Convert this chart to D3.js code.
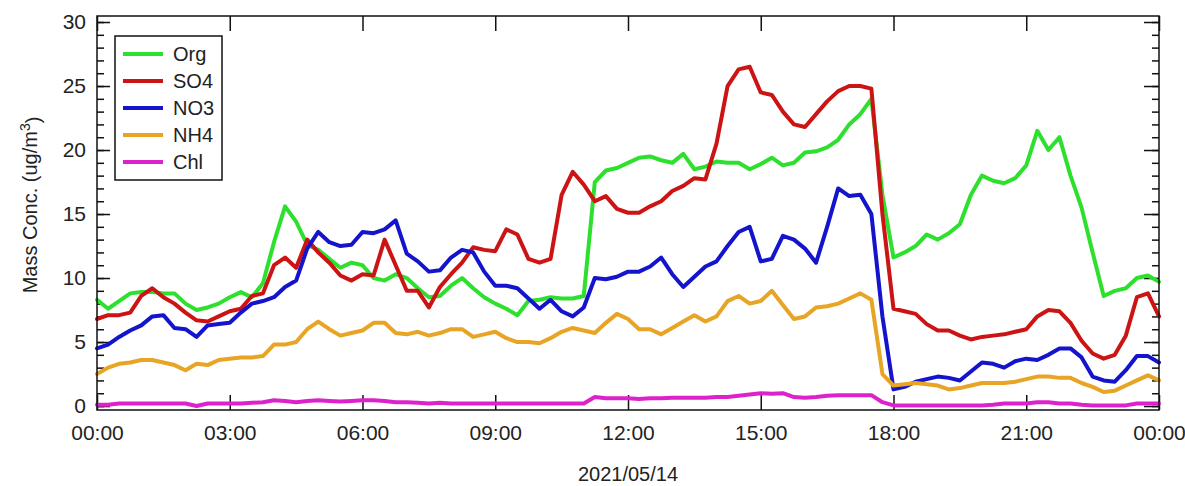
<!DOCTYPE html>
<html>
<head>
<meta charset="utf-8">
<script src="https://cdn.jsdelivr.net/npm/d3@7"></script>
<style>
  html,body{margin:0;padding:0;background:#fff;}
  svg text{font-family:"Liberation Sans",Arial,sans-serif;fill:#222;}
</style>
</head>
<body>
<script>
// 15-minute grid, 2021/05/14 00:00 -> 2021/05/15 00:00
const seriesNames = ["Org","SO4","NO3","NH4","Chl"];
const seriesColors = ["#2ee02e","#cc1414","#1414cc","#e8a424","#dd22cc"];
const xTickHours = [0,3,6,9,12,15,18,21,24];
const xTickLabels = ["00:00","03:00","06:00","09:00","12:00","15:00","18:00","21:00","00:00"];
const yTickValues = [0,5,10,15,20,25,30];
const dateLabel = "2021/05/14";

const org = [8.3,7.6,8.2,8.8, 8.9,8.9,8.8,8.8, 8.0,7.5,7.7,8.0, 8.5,8.9,8.5,9.6,
  12.8,15.6,14.4,12.6, 12.2,11.5,10.8,11.2, 11.0,10.0,9.8,10.3, 10.0,9.2,8.5,8.6,
  9.4,10.0,9.2,8.5, 8.0,7.6,7.1,8.2, 8.3,8.5,8.4,8.4, 8.6,17.5,18.4,18.6,
  19.0,19.4,19.5,19.2, 19.0,19.7,18.5,18.7, 19.1,19.0,19.0,18.5, 18.9,19.4,18.8,19.0,
  19.8,19.9,20.2,20.8, 22.0,22.8,24.0,16.5, 11.6,12.0,12.5,13.4, 13.0,13.5,14.2,16.5,
  18.0,17.6,17.4,17.8, 18.8,21.5,20.0,21.0, 18.0,15.5,12.0,8.6, 9.0,9.2,10.0,10.2, 9.7];
const so4 = [6.8,7.1,7.1,7.3, 8.6,9.2,8.5,8.0, 7.3,6.7,6.6,7.0, 7.4,7.6,8.6,8.8,
  11.0,11.6,10.8,13.0, 12.0,11.2,10.2,9.8, 10.3,10.2,13.0,11.0, 9.0,9.0,7.7,9.3,
  10.3,11.2,12.4,12.2, 12.1,13.8,13.4,11.5, 11.2,11.5,16.5,18.3, 17.3,16.0,16.4,15.4,
  15.1,15.1,15.6,16.0, 16.8,17.2,17.8,17.7, 20.5,25.0,26.3,26.5, 24.5,24.3,23.0,22.0,
  21.8,22.8,23.8,24.6, 25.0,25.0,24.8,15.0, 7.6,7.4,7.2,6.4, 5.9,5.9,5.5,5.2,
  5.4,5.5,5.6,5.8, 6.0,7.0,7.5,7.4, 6.5,5.1,4.1,3.7, 4.0,5.5,8.5,8.8, 7.0];
const no3 = [4.5,4.8,5.4,5.9, 6.3,7.0,7.1,6.1, 6.0,5.4,6.3,6.4, 6.5,7.3,8.0,8.2,
  8.5,9.3,9.8,12.3, 13.6,12.8,12.5,12.6, 13.6,13.5,13.8,14.5, 11.9,11.3,10.5,10.6,
  11.6,12.2,12.0,10.5, 9.4,9.4,9.2,8.4, 7.6,8.3,7.4,7.0, 7.7,10.0,9.9,10.1,
  10.5,10.5,10.9,11.6, 10.3,9.3,10.1,10.9, 11.3,12.5,13.6,14.0, 11.3,11.5,13.3,13.0,
  12.3,11.2,14.0,17.0, 16.4,16.5,15.0,7.0, 1.3,1.5,1.9,2.1, 2.3,2.2,2.0,2.7,
  3.4,3.3,3.0,3.5, 3.7,3.6,4.0,4.5, 4.5,3.8,2.3,2.0, 1.9,2.8,3.9,3.9, 3.4];
const nh4 = [2.5,3.0,3.3,3.4, 3.6,3.6,3.4,3.2, 2.8,3.3,3.2,3.6, 3.7,3.8,3.8,3.9,
  4.8,4.8,5.0,6.0, 6.6,6.0,5.5,5.7, 5.9,6.5,6.5,5.7, 5.6,5.8,5.5,5.7,
  6.0,6.0,5.4,5.6, 5.8,5.3,5.0,5.0, 4.9,5.3,5.8,6.1, 5.9,5.7,6.5,7.2,
  6.8,6.0,6.0,5.6, 6.1,6.6,7.1,6.6, 7.0,8.2,8.6,8.0, 8.2,9.0,7.9,6.8,
  7.0,7.7,7.8,8.0, 8.4,8.8,8.3,2.5, 1.6,1.7,1.8,1.7, 1.6,1.3,1.4,1.6,
  1.8,1.8,1.8,1.9, 2.1,2.3,2.3,2.2, 2.2,1.8,1.5,1.1, 1.2,1.6,2.0,2.4, 2.0];
const chl = [0.1,0.1,0.2,0.2, 0.2,0.2,0.2,0.2, 0.2,0.0,0.2,0.2, 0.2,0.2,0.25,0.3,
  0.45,0.4,0.3,0.4, 0.45,0.4,0.35,0.4, 0.45,0.45,0.4,0.3, 0.3,0.25,0.2,0.25,
  0.2,0.2,0.2,0.2, 0.2,0.2,0.2,0.2, 0.2,0.2,0.2,0.2, 0.2,0.7,0.6,0.6,
  0.6,0.55,0.6,0.6, 0.65,0.65,0.65,0.65, 0.7,0.7,0.8,0.9, 1.0,0.95,1.0,0.7,
  0.65,0.7,0.8,0.85, 0.85,0.85,0.85,0.3, 0.05,0.05,0.05,0.05, 0.05,0.05,0.05,0.05,
  0.05,0.1,0.2,0.2, 0.2,0.3,0.3,0.2, 0.2,0.1,0.05,0.05, 0.05,0.05,0.2,0.2, 0.2];
const seriesValues = [org, so4, no3, nh4, chl];
const stepHours = 0.25;

const W = 1185, H = 486;
const L = 97, R = 1159, T = 16, B = 410;
const svg = d3.select("body").append("svg").attr("width", W).attr("height", H);

const x = d3.scaleLinear().domain([0, 24]).range([L, R]);
const y = d3.scaleLinear().domain([-0.31, 30.47]).range([B, T]);

const minorY = d3.range(0, 31, 1);

// left axis: inward ticks + labels
svg.append("g").attr("transform", `translate(${L},0)`)
  .call(d3.axisRight(y).tickValues(minorY).tickSize(7).tickFormat(""))
  .call(g => g.select(".domain").remove());
svg.append("g").attr("transform", `translate(${L},0)`)
  .call(d3.axisRight(y).tickValues(yTickValues).tickSize(13).tickFormat(""))
  .call(g => g.select(".domain").remove());
svg.append("g").attr("transform", `translate(${L},0)`)
  .call(d3.axisLeft(y).tickValues(yTickValues).tickSize(0).tickPadding(11).tickFormat(d3.format("d")))
  .call(g => g.select(".domain").remove())
  .call(g => g.selectAll("text").style("font-size", "21px"));

// right axis inward ticks
svg.append("g").attr("transform", `translate(${R},0)`)
  .call(d3.axisLeft(y).tickValues(minorY).tickSize(7).tickFormat(""))
  .call(g => g.select(".domain").remove());
svg.append("g").attr("transform", `translate(${R},0)`)
  .call(d3.axisLeft(y).tickValues(yTickValues).tickSize(15).tickFormat(""))
  .call(g => g.select(".domain").remove());

// bottom axis
svg.append("g").attr("transform", `translate(0,${B})`)
  .call(d3.axisTop(x).tickValues(xTickHours).tickSize(15).tickFormat(""))
  .call(g => g.select(".domain").remove());
svg.append("g").attr("transform", `translate(0,${B})`)
  .call(d3.axisBottom(x).tickValues(xTickHours).tickSize(0).tickPadding(15)
    .tickFormat((d, i) => xTickLabels[i]))
  .call(g => g.select(".domain").remove())
  .call(g => g.selectAll("text").style("font-size", "21px"));
// top axis
svg.append("g").attr("transform", `translate(0,${T})`)
  .call(d3.axisBottom(x).tickValues(xTickHours).tickSize(15).tickFormat(""))
  .call(g => g.select(".domain").remove());

svg.selectAll(".tick line").attr("stroke", "#111").attr("stroke-width", 1.5);

// series
const line = d3.line().x((d, i) => x(i * stepHours)).y(d => y(d));
const plot = svg.append("g");
seriesValues.forEach((vals, k) => {
  plot.append("path").datum(vals)
    .attr("d", line)
    .attr("fill", "none")
    .attr("stroke", seriesColors[k])
    .attr("stroke-width", 4)
    .attr("stroke-linejoin", "round")
    .attr("stroke-linecap", "round");
});

// frame
svg.append("rect").attr("x", L).attr("y", T).attr("width", R - L).attr("height", B - T)
  .attr("fill", "none").attr("stroke", "#111").attr("stroke-width", 1.5);

// legend
const lg = svg.append("g");
lg.append("rect").attr("x", 115).attr("y", 36).attr("width", 107).attr("height", 144)
  .attr("fill", "#fff").attr("stroke", "#111").attr("stroke-width", 1.5);
seriesNames.forEach((n, k) => {
  const yy = 54 + k * 27;
  lg.append("line").attr("x1", 123).attr("x2", 163).attr("y1", yy).attr("y2", yy)
    .attr("stroke", seriesColors[k]).attr("stroke-width", 4);
  lg.append("text").attr("x", 173).attr("y", yy).attr("dy", "0.36em")
    .style("font-size", "20px").text(n);
});

// axis titles
svg.append("text").attr("x", (L + R) / 2).attr("y", 474).attr("dy", "0.36em")
  .attr("text-anchor", "middle").style("font-size", "20px").text(dateLabel);

const yt = svg.append("text").attr("transform", "translate(30,205) rotate(-90)")
  .attr("text-anchor", "middle").attr("dy", "0.36em").style("font-size", "20px");
yt.append("tspan").text("Mass Conc. (ug/m");
yt.append("tspan").attr("dy", "-0.5em").style("font-size", "14px").text("3");
yt.append("tspan").attr("dy", "0.5em").text(")");
</script>
</body>
</html>
